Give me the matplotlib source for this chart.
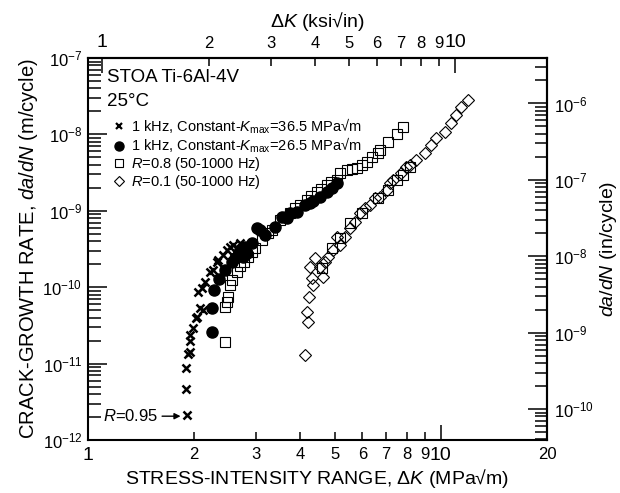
import matplotlib
matplotlib.use("Agg")
import matplotlib.pyplot as plt
from matplotlib.lines import Line2D
from matplotlib.ticker import FixedLocator, FuncFormatter, LogLocator, NullFormatter

plt.rcParams['font.family'] = ['Liberation Sans', 'DejaVu Sans']
plt.rcParams['mathtext.fontset'] = 'custom'
plt.rcParams['mathtext.rm'] = 'Liberation Sans'
plt.rcParams['mathtext.it'] = 'Liberation Sans:italic'
plt.rcParams['mathtext.bf'] = 'Liberation Sans:bold'

# 1 kHz, constant Kmax = 36.5 MPa sqrt(m)
dk_kmax365 = [1.904, 1.895, 1.891, 1.916, 1.945, 1.945, 1.945, 1.984, 2.022, 2.032,
              2.076, 2.113, 2.049, 2.100, 2.145, 2.216, 2.261, 2.315, 2.335, 2.412,
              2.471, 2.525, 2.575, 2.638, 2.696]
dadn_kmax365 = [2.12e-12, 4.65e-12, 8.75e-12, 1.34e-11, 1.42e-11, 1.98e-11, 2.37e-11, 2.92e-11,
                3.95e-11, 4.07e-11, 5.35e-11, 5.03e-11, 8.65e-11, 9.77e-11, 1.17e-10, 1.58e-10,
                1.68e-10, 2.14e-10, 2.27e-10, 2.64e-10, 3.07e-10, 3.36e-10, 3.57e-10, 3.26e-10,
                3.79e-10]

# 1 kHz, constant Kmax = 26.5 MPa sqrt(m)
dk_kmax265 = [2.241, 2.241, 2.279, 2.355, 2.444, 2.558, 2.609, 2.660, 2.749, 2.816,
              2.696, 2.785, 2.909, 3.005, 3.071, 3.172, 3.386, 3.537, 3.655, 3.734,
              3.902, 4.120, 4.256, 4.340, 4.542, 4.745, 4.903, 5.064]
dadn_kmax265 = [2.62e-11, 5.30e-11, 9.19e-11, 1.27e-10, 1.68e-10, 2.14e-10, 2.41e-10, 2.64e-10,
                2.51e-10, 2.78e-10, 3.07e-10, 3.36e-10, 3.76e-10, 5.90e-10, 5.61e-10, 4.83e-10,
                6.20e-10, 8.38e-10, 7.98e-10, 9.35e-10, 9.73e-10, 1.19e-9, 1.25e-9, 1.34e-9,
                1.53e-9, 1.78e-9, 1.97e-9, 2.29e-9]

# R = 0.8 (50-1000 Hz)
dk_r08 = [2.444, 2.444, 2.471, 2.492, 2.525, 2.558, 2.638, 2.696, 2.767, 2.839,
          2.915, 2.972, 3.105, 3.236, 3.322, 3.499, 3.615, 3.734, 3.858, 3.988,
          4.164, 4.283, 4.445, 4.571, 4.745, 4.880, 5.064, 5.175, 5.406, 5.596,
          5.770, 5.963, 6.161, 6.365, 6.632, 6.719, 7.092, 7.491, 7.821,
          4.592, 4.903, 5.175, 5.523, 5.963, 6.645, 7.092, 7.491, 7.821, 8.170]
dadn_r08 = [1.92e-11, 5.51e-11, 6.46e-11, 7.51e-11, 1.07e-10, 1.24e-10, 1.60e-10, 1.89e-10,
            2.14e-10, 2.51e-10, 2.89e-10, 3.26e-10, 4.15e-10, 5.12e-10, 5.61e-10, 7.58e-10,
            8.30e-10, 9.35e-10, 1.09e-9, 1.19e-9, 1.38e-9, 1.56e-9, 1.78e-9, 1.93e-9,
            2.18e-9, 2.38e-9, 2.53e-9, 3.10e-9, 3.42e-9, 3.52e-9, 3.60e-9, 3.97e-9,
            4.39e-9, 5.11e-9, 5.66e-9, 6.25e-9, 8.02e-9, 1.01e-8, 1.26e-8,
            1.77e-10, 3.23e-10, 4.37e-10, 6.86e-10, 9.27e-10, 1.46e-9, 1.87e-9, 2.53e-9,
            2.94e-9, 3.78e-9]

# R = 0.1 (50-1000 Hz)
dk_r01 = [4.120, 4.208, 4.164, 4.236, 4.348, 4.302, 4.256, 4.641, 4.398, 4.542,
          4.692, 4.794, 4.953, 5.064, 5.175, 5.346, 5.523, 5.705, 5.895, 6.090,
          6.292, 6.501, 6.719, 7.019, 7.171, 7.328, 7.738, 7.994, 8.170, 8.535,
          9.010, 9.413, 9.723, 10.26, 10.72, 11.08, 11.44, 11.95]
dadn_r01 = [1.30e-11, 3.53e-11, 4.78e-11, 7.38e-11, 1.07e-10, 1.31e-10, 1.85e-10, 1.37e-10,
            2.39e-10, 1.85e-10, 2.16e-10, 2.51e-10, 3.07e-10, 4.58e-10, 3.57e-10, 4.58e-10,
            5.90e-10, 7.20e-10, 9.27e-10, 1.08e-9, 1.19e-9, 1.46e-9, 1.53e-9, 1.87e-9,
            2.29e-9, 2.53e-9, 3.10e-9, 3.78e-9, 3.97e-9, 4.62e-9, 5.66e-9, 7.26e-9,
            8.89e-9, 1.08e-8, 1.40e-8, 1.79e-8, 2.31e-8, 2.82e-8]

legend_labels = ["1 kHz, Constant-$K_{\\rm max}$=36.5 MPa\u221am",
                 "1 kHz, Constant-$K_{\\rm max}$=26.5 MPa\u221am",
                 "$R$=0.8 (50-1000 Hz)",
                 "$R$=0.1 (50-1000 Hz)"]

left_decades = [1e-12, 1e-11, 1e-10, 1e-9, 1e-8, 1e-7]
right_decades = [1e-10, 1e-9, 1e-8, 1e-7, 1e-6]

MPA_PER_KSI = 1.0988   # MPa sqrt(m) per ksi sqrt(in)
M_PER_IN = 0.0254

fig = plt.figure(figsize=(6.2, 4.93), dpi=100)
ax = fig.add_axes([0.1419, 0.1075, 0.7403, 0.7748])

ax.plot(dk_r01, dadn_r01, ls='none', marker='D', ms=6.5, mfc='none', mec='black', mew=0.8)
ax.plot(dk_r08, dadn_r08, ls='none', marker='s', ms=7.5, mfc='none', mec='black', mew=0.8)
ax.plot(dk_kmax265, dadn_kmax265, ls='none', marker='o', ms=8, color='black')
ax.plot(dk_kmax365, dadn_kmax365, ls='none', marker='x', ms=5.5, mew=1.8, color='black')

ax.set_xscale('log')
ax.set_yscale('log')
ax.set_xlim(1, 20)
ax.set_ylim(1e-12, 1e-7)

# bottom axis ticks
ax.xaxis.set_major_locator(FixedLocator([1, 10]))
ax.xaxis.set_minor_locator(FixedLocator([2, 3, 4, 5, 6, 7, 8, 9, 20]))
ax.xaxis.set_major_formatter(FuncFormatter(lambda v, p: f"{v:g}"))
ax.xaxis.set_minor_formatter(FuncFormatter(lambda v, p: f"{v:g}"))
ax.yaxis.set_major_locator(FixedLocator(left_decades))
ax.yaxis.set_minor_locator(LogLocator(base=10, subs=range(2, 10), numticks=20))
ax.yaxis.set_minor_formatter(NullFormatter())

ax.tick_params(which='both', direction='in', width=1.1)
ax.tick_params(axis='x', which='major', length=11, labelsize=14, pad=5)
ax.tick_params(axis='x', which='minor', length=6, labelsize=12, pad=5)
ax.tick_params(axis='y', which='major', length=14, labelsize=12, pad=4)
ax.tick_params(axis='y', which='minor', length=9)
for s in ax.spines.values():
    s.set_linewidth(1.5)

# top axis in ksi sqrt(in)
top = ax.secondary_xaxis('top', functions=(lambda x: x / MPA_PER_KSI, lambda x: x * MPA_PER_KSI))
top.xaxis.set_major_locator(FixedLocator([1, 10]))
top.xaxis.set_minor_locator(FixedLocator([2, 3, 4, 5, 6, 7, 8, 9]))
top.xaxis.set_major_formatter(FuncFormatter(lambda v, p: f"{v:g}"))
top.xaxis.set_minor_formatter(FuncFormatter(lambda v, p: f"{v:g}"))
top.tick_params(which='both', direction='in', width=1.1)
top.tick_params(which='major', length=11, labelsize=14, pad=5)
top.tick_params(which='minor', length=6, labelsize=12, pad=5)
top.set_xlabel("$\\Delta K$ (ksi\u221ain)", fontsize=14, labelpad=5)
top.spines['top'].set_linewidth(1.5)

# right axis in in/cycle
right = ax.secondary_yaxis('right', functions=(lambda y: y / M_PER_IN, lambda y: y * M_PER_IN))
right.yaxis.set_major_locator(FixedLocator(right_decades))
right.yaxis.set_minor_locator(LogLocator(base=10, subs=range(2, 10), numticks=20))
right.yaxis.set_minor_formatter(NullFormatter())
right.tick_params(which='both', direction='in', width=1.1)
right.tick_params(which='major', length=14, labelsize=12, pad=5)
right.tick_params(which='minor', length=9)
right.set_ylabel("$da/dN$ (in/cycle)", fontsize=14, labelpad=3)
right.spines['right'].set_linewidth(1.5)

ax.set_xlabel("STRESS-INTENSITY RANGE, $\\Delta K$ (MPa\u221am)", fontsize=14, labelpad=2)
ax.set_ylabel("CRACK-GROWTH RATE, $da/dN$ (m/cycle)", fontsize=14.5, labelpad=2)

ax.text(0.041, 0.950, "STOA Ti-6Al-4V", transform=ax.transAxes, fontsize=13.5, va='center', ha='left')
ax.text(0.041, 0.887, "25\u00b0C", transform=ax.transAxes, fontsize=13.5, va='center', ha='left')

handles = [
    Line2D([], [], ls='none', marker='x', ms=4.5, mew=1.6, color='black'),
    Line2D([], [], ls='none', marker='o', ms=6.5, color='black'),
    Line2D([], [], ls='none', marker='s', ms=6, mfc='none', mec='black', mew=0.8),
    Line2D([], [], ls='none', marker='D', ms=5, mfc='none', mec='black', mew=0.8),
]
ax.legend(handles, legend_labels, loc='upper left', bbox_to_anchor=(0.055, 0.847), frameon=False,
          fontsize=10.5, borderpad=0, borderaxespad=0, handlelength=0.8, handletextpad=0.4,
          labelspacing=0.0)

ax.annotate("$R$=0.95", xy=(1.83, 2.05e-12), xytext=(1.10, 2.05e-12), fontsize=12,
            va='center', ha='left',
            arrowprops=dict(arrowstyle='-|>', color='black', lw=1, mutation_scale=9,
                            shrinkA=1, shrinkB=0))

fig.savefig("out.png", dpi=100)
